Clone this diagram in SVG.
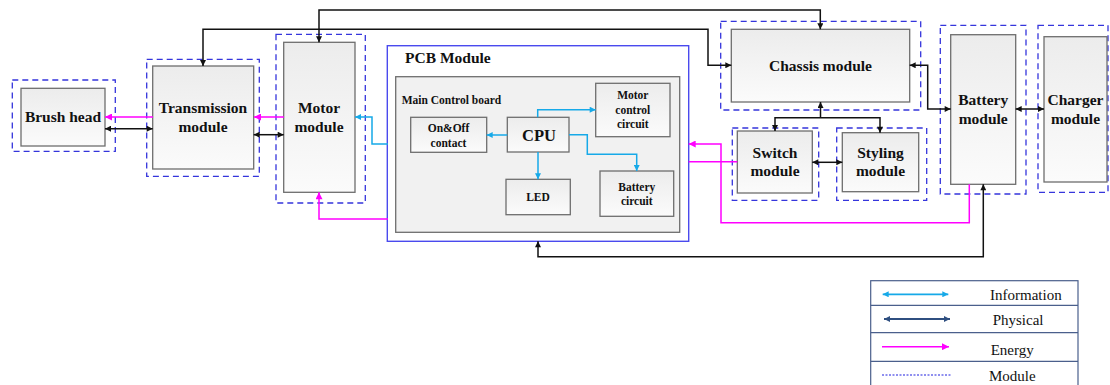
<svg xmlns="http://www.w3.org/2000/svg" width="1110" height="385" viewBox="0 0 1110 385">
<style>
.box{fill:url(#g);stroke:#6e6e6e;stroke-width:1.3}
.mod{fill:none;stroke:#3535dc;stroke-width:1.3;stroke-dasharray:6,4}
.t{font-family:"Liberation Serif","Times New Roman",serif;font-weight:bold;fill:#111;text-anchor:middle}
.big{font-size:15.5px}
.sm{font-size:11.5px}
.leg{font-family:"Liberation Serif","Times New Roman",serif;font-size:15px;fill:#111}
.bk{fill:none;stroke:#111;stroke-width:1.5;marker-start:url(#ab);marker-end:url(#ab)}
.bk1{fill:none;stroke:#111;stroke-width:1.5;marker-end:url(#ab)}
.mg{fill:none;stroke:#ff00ff;stroke-width:1.5}
.cy{fill:none;stroke:#16a9e8;stroke-width:1.5;marker-end:url(#ac)}
</style>
<defs>
<linearGradient id="g" x1="0" y1="0" x2="0" y2="1">
<stop offset="0" stop-color="#ececec"/>
<stop offset="1" stop-color="#fbfbfb"/>
</linearGradient>
<marker id="ab" viewBox="0 0 10 10" refX="10" refY="5" markerWidth="7" markerHeight="6" markerUnits="userSpaceOnUse" orient="auto-start-reverse"><path d="M0,0 L10,5 L0,10 Z" fill="#111"/></marker>
<marker id="am" viewBox="0 0 10 10" refX="10" refY="5" markerWidth="8" markerHeight="7" markerUnits="userSpaceOnUse" orient="auto-start-reverse"><path d="M0,0 L10,5 L0,10 Z" fill="#ff00ff"/></marker>
<marker id="ac" viewBox="0 0 10 10" refX="10" refY="5" markerWidth="7" markerHeight="6" markerUnits="userSpaceOnUse" orient="auto-start-reverse"><path d="M0,0 L10,5 L0,10 Z" fill="#16a9e8"/></marker>
<marker id="ap" viewBox="0 0 10 10" refX="10" refY="5" markerWidth="8" markerHeight="6" markerUnits="userSpaceOnUse" orient="auto-start-reverse"><path d="M0,0 L10,5 L0,10 Z" fill="#2f4f80"/></marker>
</defs>
<rect width="1110" height="385" fill="#fff"/>

<g id="brush">
<rect class="mod" x="12.3" y="80" width="103" height="71.3"/>
<rect class="box" x="21" y="88.3" width="84" height="57.7"/>
<text class="t big" x="63" y="122">Brush head</text>
</g>
<g id="transmission">
<rect class="mod" x="146.7" y="59.3" width="112.6" height="117"/>
<rect class="box" x="152.7" y="66" width="101" height="103"/>
<text class="t big" x="203" y="113">Transmission</text>
<text class="t big" x="203" y="132">module</text>
</g>
<g id="motor">
<rect class="mod" x="276" y="34.3" width="89.3" height="168.7"/>
<rect class="box" x="283.7" y="42.3" width="71.3" height="150"/>
<text class="t big" x="319" y="113">Motor</text>
<text class="t big" x="319" y="132">module</text>
</g>
<g id="pcb">
<rect x="387.3" y="45.7" width="301.4" height="195.6" fill="#fff" stroke="#4a4aee" stroke-width="1.4"/>
<text class="t big" x="405" y="63" style="text-anchor:start">PCB Module</text>
<rect x="395.7" y="76.7" width="284" height="155.6" fill="#f1f1f1" stroke="#6e6e6e" stroke-width="1.3"/>
<text class="t sm" x="401.7" y="103.5" style="text-anchor:start">Main Control board</text>
<g id="onoff"><rect class="box" x="410.7" y="117.3" width="76" height="35"/>
<text class="t sm" x="448.5" y="132">On&amp;Off</text><text class="t sm" x="448.5" y="146.5">contact</text></g>
<g id="cpu"><rect class="box" x="507.3" y="117.3" width="61.7" height="34.7"/>
<text class="t" x="539" y="141" style="font-size:16.5px">CPU</text></g>
<g id="motorctrl"><rect class="box" x="595.7" y="83.3" width="74.3" height="53.4"/>
<text class="t sm" x="632.8" y="99">Motor</text><text class="t sm" x="632.8" y="114">control</text><text class="t sm" x="632.8" y="127.5">circuit</text></g>
<g id="led"><rect class="box" x="506" y="179.3" width="64.3" height="35.4"/>
<text class="t sm" x="538" y="201">LED</text></g>
<g id="batcircuit"><rect class="box" x="600" y="171" width="73.7" height="45.3"/>
<text class="t sm" x="636.8" y="190.7">Battery</text><text class="t sm" x="636.8" y="205">circuit</text></g>
</g>
<g id="chassis">
<rect class="mod" x="720.7" y="21.3" width="200" height="88.7"/>
<rect class="box" x="731.3" y="29.3" width="178.4" height="72.7"/>
<text class="t big" x="820.5" y="71">Chassis module</text>
</g>
<g id="switch">
<rect class="mod" x="732.3" y="128" width="86.4" height="72.3"/>
<rect class="box" x="737.3" y="131" width="75" height="62"/>
<text class="t big" x="775" y="158">Switch</text>
<text class="t big" x="775" y="176">module</text>
</g>
<g id="styling">
<rect class="mod" x="836.7" y="128" width="90" height="72.3"/>
<rect class="box" x="842.3" y="132.7" width="76.4" height="59"/>
<text class="t big" x="880.5" y="158">Styling</text>
<text class="t big" x="880.5" y="176">module</text>
</g>
<g id="battery">
<rect class="mod" x="940.3" y="25.3" width="85.7" height="168.7"/>
<rect class="box" x="950.7" y="34.7" width="65" height="149.6"/>
<text class="t big" x="983.2" y="105">Battery</text>
<text class="t big" x="983.2" y="124">module</text>
</g>
<g id="charger">
<rect class="mod" x="1038" y="25.3" width="70" height="167"/>
<rect class="box" x="1044" y="36.7" width="63" height="145.3"/>
<text class="t big" x="1075.5" y="105">Charger</text>
<text class="t big" x="1075.5" y="124">module</text>
</g>

<g id="connectors">
<path class="bk" d="M319,42.3 V10 H820.3 V29.3"/>
<path class="bk" d="M203,66 V29.3 H708 V65.3 H731.3"/>
<path class="bk" d="M105,128.7 H152.7"/>
<path class="bk" d="M253.7,134.7 H283.7"/>
<path class="mg" d="M153,117 H105" marker-end="url(#am)"/>
<path class="mg" d="M284,117 H254" marker-end="url(#am)"/>
<path class="cy" d="M388,144 H372 V117 H355"/>
<path class="mg" d="M388,219 H319 V192.3" marker-end="url(#am)"/>
<path class="bk" d="M909.7,65.3 H927.7 V109 H950.7"/>
<path class="bk1" d="M820.5,117.7 V102"/>
<path class="bk" d="M775,131 V117.7 H880 V132.7"/>
<path class="bk" d="M812.3,162.3 H842.3"/>
<path class="bk" d="M1015.7,109 H1044"/>
<path class="bk" d="M983.3,184.3 V256.7 H538 V241.3"/>
<path class="mg" d="M969.3,184.3 V222.7 H721 V144 H688.7" marker-end="url(#am)"/>
<path class="mg" d="M737.3,161.7 H688.7"/>
<path class="cy" d="M507.3,135 H486.7"/>
<path class="cy" d="M537.7,117.3 V109.7 H595.7"/>
<path class="cy" d="M538,152 V179.3"/>
<path class="cy" d="M569,134.7 H587.3 V154.3 H636.7 V171"/>
</g>

<g id="legend">
<rect x="870.7" y="280.7" width="207.3" height="110" fill="#fff" stroke="#4a5f8c" stroke-width="1.2"/>
<line x1="870.7" y1="305.3" x2="1078" y2="305.3" stroke="#4a5f8c" stroke-width="1.2"/>
<line x1="870.7" y1="332.7" x2="1078" y2="332.7" stroke="#4a5f8c" stroke-width="1.2"/>
<line x1="870.7" y1="361.3" x2="1078" y2="361.3" stroke="#4a5f8c" stroke-width="1.2"/>
<path d="M882.7,294.3 H948.3" stroke="#16a9e8" stroke-width="1.8" marker-start="url(#ac)" marker-end="url(#ac)"/>
<path d="M884,319 H950" stroke="#2f4f80" stroke-width="1.8" marker-start="url(#ap)" marker-end="url(#ap)"/>
<path d="M882,346.7 H949" stroke="#ff00ff" stroke-width="1.6" marker-end="url(#am)"/>
<path d="M882,375 H951" stroke="#2020e0" stroke-width="1.2" stroke-dasharray="2,1.5"/>
<text class="leg" x="990" y="299.5">Information</text>
<text class="leg" x="992.7" y="324.5">Physical</text>
<text class="leg" x="990.7" y="355">Energy</text>
<text class="leg" x="989" y="380.5">Module</text>
</g>
</svg>
